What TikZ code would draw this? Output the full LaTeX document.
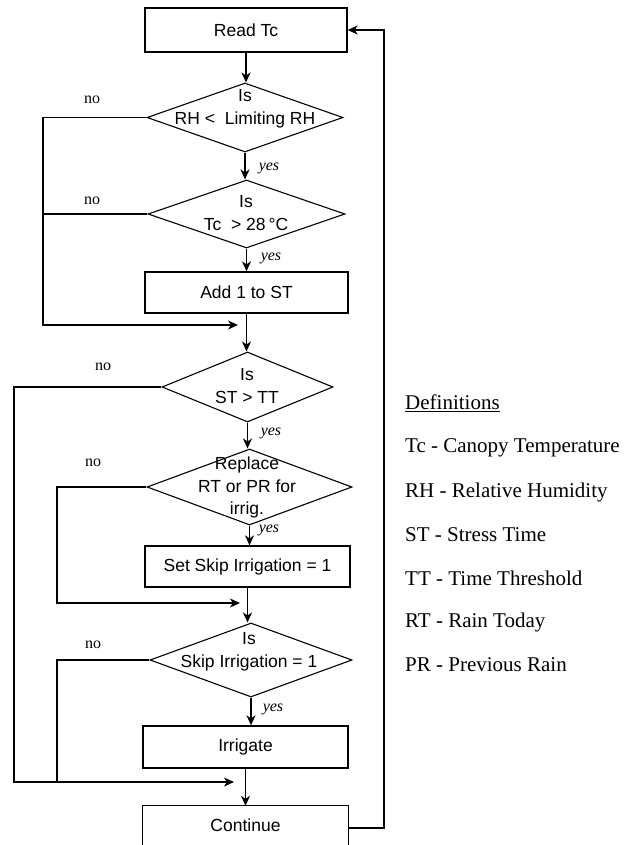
\documentclass[tikz,border=0pt]{standalone}
\usepackage{fontspec}
\setmainfont{Liberation Sans}
\newfontfamily\defserif{Liberation Serif}
\usetikzlibrary{shapes.geometric,arrows.meta,calc}
\begin{document}
\begin{tikzpicture}[x=1pt,y=-1pt,
  ln/.style={line width=1.3pt},
  arr/.style={-{Stealth[length=10pt,width=9pt,inset=3pt]}},
  box/.style={draw,line width=1.3pt,inner sep=0pt,font=\fontsize{17.5}{21}\selectfont},
  dec/.style={draw,diamond,line width=1.1pt,inner sep=0pt},
  txt/.style={align=center,inner sep=0pt,font=\fontsize{17.5}{22.7}\selectfont},
  nolab/.style={inner sep=0pt,font=\defserif\fontsize{16}{18}\selectfont},
  yeslab/.style={inner sep=0pt,font=\defserif\itshape\fontsize{16}{18}\selectfont},
  defn/.style={anchor=west,inner sep=0pt,font=\defserif\fontsize{21}{24}\selectfont}]
\useasboundingbox[fill=white] (0,0) rectangle (624,845);

% boxes and decisions
\node[box,minimum width=202,minimum height=44] (b1) at (246,30) {Read Tc};
\node[dec,minimum width=196,minimum height=69] (d1) at (245,117.5) {};
\node[txt] (t1) at (245,108.5) {Is\\RH <\ \ Limiting RH};
\node[dec,minimum width=197,minimum height=68] (d2) at (246.5,214) {};
\node[txt] (t2) at (246,213) {Is\\Tc\ \ > 28\,°C};
\node[box,minimum width=203,minimum height=41] (b2) at (246.5,292.5) {Add 1 to ST};
\node[dec,minimum width=171,minimum height=70] (d3) at (247.5,387) {};
\node[txt] (t3) at (247,386) {Is\\ST > TT};
\node[dec,minimum width=205,minimum height=76] (d4) at (249.5,487) {};
\node[txt] (t4) at (247,487.5) {Replace\\RT or PR for\\irrig.};
\node[box,minimum width=205,minimum height=41] (b3) at (247.5,566.5) {Set Skip Irrigation = 1};
\node[dec,minimum width=202,minimum height=74] (d5) at (251,660) {};
\node[txt] (t5) at (249,651.5) {Is\\Skip Irrigation = 1};
\node[box,minimum width=205,minimum height=42] (b4) at (245.5,747) {Irrigate};
\node[inner sep=0pt,minimum width=205,minimum height=39,font=\fontsize{17.5}{21}\selectfont] (b5) at (245.5,825.5) {Continue};
\draw[ln] (b5.south west) -- (b5.north west) -- (b5.north east) -- (b5.south east);

% main flow
\draw[ln,arr] (b1.south) -- (b1.south |- d1.north);
\draw[ln,arr] (d1.south) -- (d1.south |- d2.north);
\draw[ln,arr] (d2.south) -- (d2.south |- b2.north);
\draw[ln,arr] (b2.south) -- (b2.south |- d3.north);
\draw[ln,arr] (d3.south) -- (d3.south |- d4.north);
\draw[ln,arr] (d4.south) -- (d4.south |- b3.north);
\draw[ln,arr] (b3.south) -- (b3.south |- d5.north);
\draw[ln,arr] (d5.south) -- (d5.south |- b4.north);
\draw[ln,arr] (b4.south) -- (b4.south |- b5.north);

% "no" branches
\coordinate (xa) at (43,0);
\coordinate (xb) at (14,0);
\coordinate (xc) at (57,0);
\coordinate (m1) at (238,325);
\coordinate (m2) at (240,603);
\coordinate (m3) at (234,782);
\draw[ln] (d2.west) -- (d2.west -| xa);
\draw[ln,arr] (d1.west) -- (d1.west -| xa) |- (m1);
\draw[ln,arr] (d3.west) -- (d3.west -| xb) |- (m3);
\draw[ln] (d5.west) -- (d5.west -| xc) -- (xc |- m3);
\draw[ln,arr] (d4.west) -- (d4.west -| xc) |- (m2);

% feedback loop
\coordinate (f1) at (384,828);
\draw[ln,arr] (b5.east |- f1) -- (f1) |- (b1.east);

% labels
\node[nolab] (n1) at (92,100) {no};
\node[nolab] (n2) at (92,201) {no};
\node[nolab] (n3) at (103,367) {no};
\node[nolab] (n4) at (93,463) {no};
\node[nolab] (n5) at (93,645) {no};
\node[yeslab] (y1) at (269,168) {yes};
\node[yeslab] (y2) at (271,258) {yes};
\node[yeslab] (y3) at (271,433) {yes};
\node[yeslab] (y4) at (269,530) {yes};
\node[yeslab] (y5) at (273,709) {yes};

% definitions
\node[defn] (df0) at (405,403) {\underline{Definitions}};
\node[defn] (df1) at (405,448) {Tc - Canopy Temperature};
\node[defn] (df2) at (405,492) {RH - Relative Humidity};
\node[defn] (df3) at (405,535) {ST - Stress Time};
\node[defn] (df4) at (405,578) {TT - Time Threshold};
\node[defn] (df5) at (405,622) {RT - Rain Today};
\node[defn] (df6) at (405,665) {PR - Previous Rain};
\end{tikzpicture}
\end{document}
